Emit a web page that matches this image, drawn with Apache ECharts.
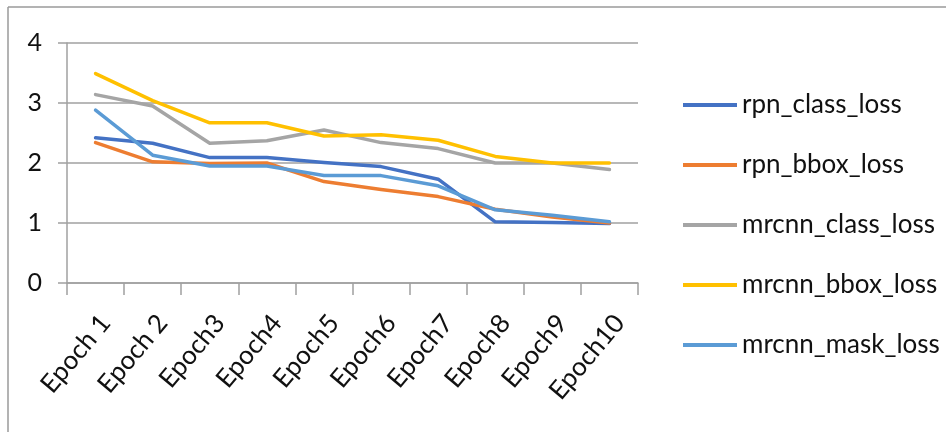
<!DOCTYPE html>
<html>
<head>
<meta charset="utf-8">
<script src="https://cdn.jsdelivr.net/npm/echarts@6/dist/echarts.min.js"></script>
<style>html,body{margin:0;padding:0;background:#fff;}#c{width:946px;height:432px;}</style>
</head>
<body>
<div id="c"></div>
<script>
var categories = ['Epoch 1','Epoch 2','Epoch3','Epoch4','Epoch5','Epoch6','Epoch7','Epoch8','Epoch9','Epoch10'];
var rpnClassLoss   = [2.42, 2.33, 2.09, 2.09, 2.01, 1.94, 1.73, 1.02, 1.01, 0.99];
var rpnBboxLoss    = [2.34, 2.02, 1.99, 2.00, 1.69, 1.56, 1.44, 1.23, 1.10, 1.00];
var mrcnnClassLoss = [3.14, 2.95, 2.33, 2.37, 2.55, 2.34, 2.24, 2.00, 2.00, 1.89];
var mrcnnBboxLoss  = [3.49, 3.04, 2.67, 2.67, 2.45, 2.47, 2.38, 2.11, 2.00, 2.00];
var mrcnnMaskLoss  = [2.88, 2.13, 1.95, 1.95, 1.79, 1.79, 1.62, 1.22, 1.13, 1.02];
var seriesNames = ['rpn_class_loss','rpn_bbox_loss','mrcnn_class_loss','mrcnn_bbox_loss','mrcnn_mask_loss'];
var seriesData = [rpnClassLoss, rpnBboxLoss, mrcnnClassLoss, mrcnnBboxLoss, mrcnnMaskLoss];
var colors = ['#4472C4','#ED7D31','#A5A5A5','#FFC000','#5B9BD5'];
var yTicks = [0, 1, 2, 3, 4];

var FONT = 'Lato, "Open Sans", sans-serif';
var chart = echarts.init(document.getElementById('c'), null, {renderer: 'canvas'});
chart.setOption({
  animation: false,
  backgroundColor: '#ffffff',
  color: colors,
  graphic: [
    {type: 'line', shape: {x1: 8, y1: 7, x2: 946, y2: 7}, style: {stroke: '#9a9a9a', lineWidth: 1.5}},
    {type: 'line', shape: {x1: 8, y1: 7, x2: 8, y2: 432}, style: {stroke: '#9a9a9a', lineWidth: 1.5}}
  ],
  grid: {left: 67, right: 308, top: 43, bottom: 149, containLabel: false},
  legend: {
    orient: 'vertical',
    left: 678,
    top: 85,
    itemGap: 30,
    itemWidth: 54,
    itemHeight: 4,
    icon: 'rect',
    data: seriesNames,
    textStyle: {fontFamily: FONT, fontSize: 26, lineHeight: 30, color: '#111'}
  },
  xAxis: {
    type: 'category',
    data: categories,
    boundaryGap: true,
    axisLine: {lineStyle: {color: '#a0a0a0', width: 1.5}},
    axisTick: {show: true, length: 12, lineStyle: {color: '#a0a0a0', width: 1.5}},
    axisLabel: {rotate: 50, align: 'right', verticalAlign: 'top', fontFamily: FONT, fontSize: 26, color: '#111', margin: 27, interval: 0}
  },
  yAxis: {
    type: 'value',
    min: yTicks[0],
    max: yTicks[yTicks.length - 1],
    interval: 1,
    axisLine: {show: true, lineStyle: {color: '#a0a0a0', width: 1.5}},
    axisTick: {show: true, length: 9, lineStyle: {color: '#a0a0a0', width: 1.5}},
    splitLine: {lineStyle: {color: '#a0a0a0', width: 1.5}},
    axisLabel: {fontFamily: FONT, fontSize: 25, color: '#111', margin: 25}
  },
  series: seriesNames.map(function (n, i) {
    return {
      name: n,
      type: 'line',
      data: seriesData[i],
      symbol: 'none',
      lineStyle: {width: 3.5, color: colors[i], cap: 'round', join: 'round'},
      itemStyle: {color: colors[i]}
    };
  })
});
</script>
</body>
</html>
